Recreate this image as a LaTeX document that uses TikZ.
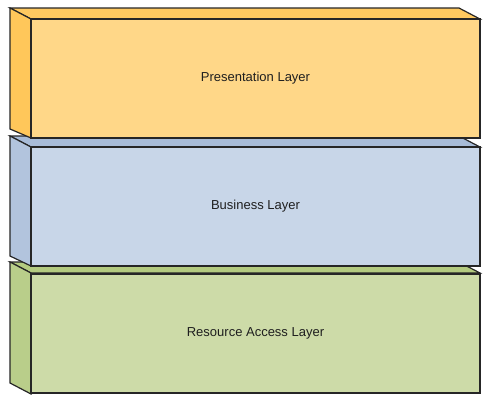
\documentclass[tikz,border=0pt]{standalone}
\usepackage{fontspec}
\setmainfont{Liberation Sans}
\begin{document}
\begin{tikzpicture}[x=1pt,y=-1pt,
  edge/.style={draw=black!85, line width=1.2pt, line join=miter},
  front/.style={edge, minimum width=449pt, minimum height=119pt, inner sep=0pt,
    font=\fontsize{13}{15}\selectfont, text=black!88},
]
\definecolor{orF}{RGB}{255,215,136}
\definecolor{orL}{RGB}{255,199,90}
\definecolor{orT}{RGB}{255,201,96}
\definecolor{blF}{RGB}{200,214,232}
\definecolor{blL}{RGB}{178,196,221}
\definecolor{blT}{RGB}{168,188,216}
\definecolor{grF}{RGB}{205,219,168}
\definecolor{grL}{RGB}{185,206,138}
\definecolor{grT}{RGB}{180,203,128}
\useasboundingbox (0,0) rectangle (493,400);
% Green (bottom)
\path[edge, fill=grT] (10,262) -- (459,262) -- (480,273) -- (31,273) -- cycle;
\path[edge, fill=grL] (10,262) -- (31,273) -- (31,394) -- (10,383) -- cycle;
\node[front, fill=grF] (res) at (255.5,333.5) {Resource Access Layer};
% Blue (middle)
\path[edge, fill=blT] (10,136) -- (459,136) -- (480,147) -- (31,147) -- cycle;
\path[edge, fill=blL] (10,136) -- (31,147) -- (31,266) -- (10,256) -- cycle;
\node[front, fill=blF] (bus) at (255.5,206.5) {Business Layer};
% Orange (top)
\path[edge, fill=orT] (10,8) -- (459,8) -- (480,19) -- (31,19) -- cycle;
\path[edge, fill=orL] (10,8) -- (31,19) -- (31,138) -- (10,129) -- cycle;
\node[front, fill=orF] (pres) at (255.5,78.5) {Presentation Layer};
\end{tikzpicture}
\end{document}
